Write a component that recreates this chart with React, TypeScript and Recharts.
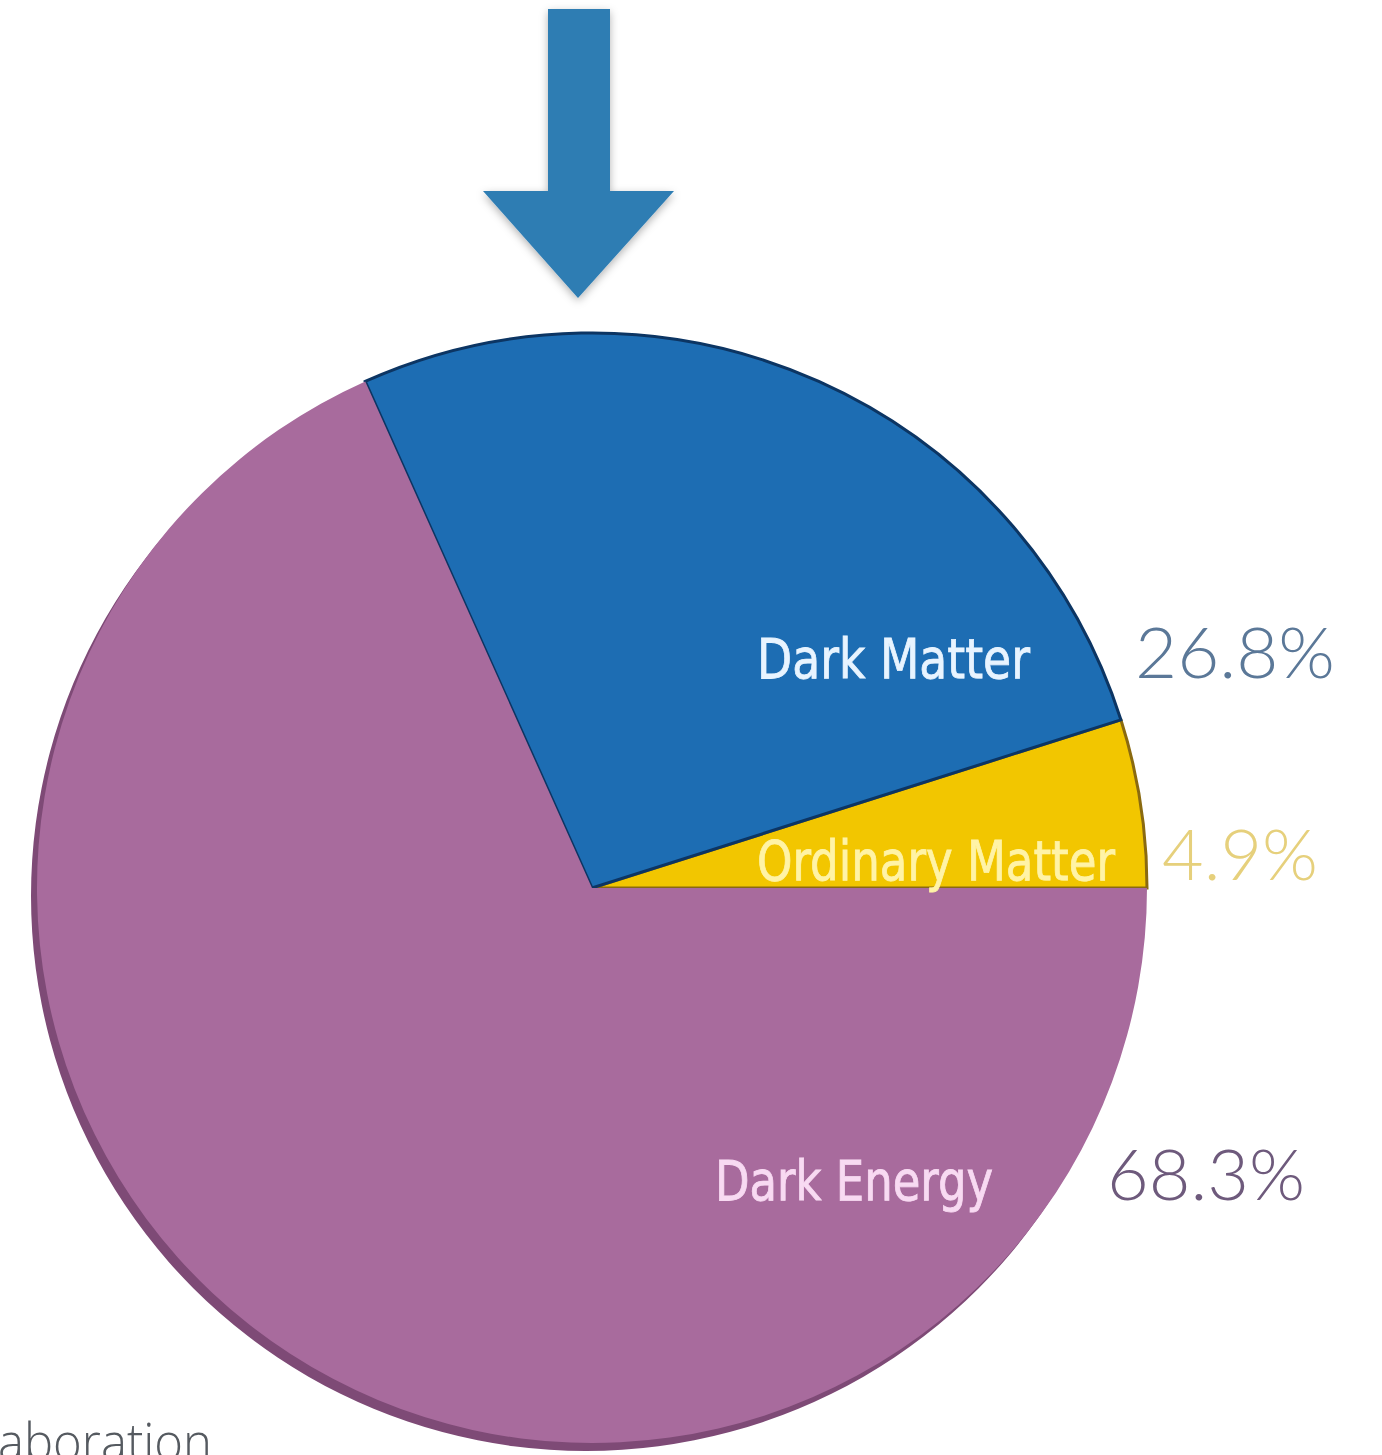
import React from "react";
import { PieChart, Pie, Cell } from "recharts";

const components = ["Ordinary Matter", "Dark Matter", "Dark Energy"];
const shares = [4.9, 26.8, 68.3];
const percentLabels = ["4.9%", "26.8%", "68.3%"];

const data = components.map((name, i) => ({ name, value: shares[i], pct: percentLabels[i] }));
const rim = [{ name: "rim", value: 100 }];

const COLORS = ["#F2C600", "#1D6DB3", "#A86B9D"];
const STROKES = ["#8a6a10", "#0c3563", "none"];
const NAME_COLORS = ["#FFF3A6", "#E8F4FF", "#F8DAF2"];
const PCT_COLORS = ["#E6D07C", "#5B7898", "#6E5A7C"];

// label placement relative to pie centre (px), per slice
const LAYOUT = [
  { nx: 165, ny: -8, nw: 358, px: 570, pw: 156 },
  { nx: 165, ny: -210, nw: 273, px: 543, pw: 200 },
  { nx: 123, ny: 312, nw: 278, px: 515, pw: 198 },
];

const W = 1382;
const H = 1455;
const CX = 592;
const CY = 888;
const R = 555;

// eslint-disable-next-line @typescript-eslint/no-explicit-any
function SliceLabel(props: any) {
  const { cx, cy, index, name, payload } = props;
  const l = LAYOUT[index];
  return (
    <g>
      <text
        x={cx + l.nx}
        y={cy + l.ny}
        fill={NAME_COLORS[index]}
        fontSize={56}
        fontFamily="'DejaVu Sans Condensed', 'DejaVu Sans', sans-serif"
        textLength={l.nw}
        lengthAdjust="spacingAndGlyphs"
        stroke={NAME_COLORS[index]}
        strokeWidth={0.8}
      >
        {name}
      </text>
      <text
        x={cx + l.px}
        y={cy + l.ny}
        fill={PCT_COLORS[index]}
        fontSize={70}
        fontWeight={300}
        fontFamily="Lato, 'DejaVu Sans', sans-serif"
        textLength={l.pw}
        lengthAdjust="spacingAndGlyphs"
      >
        {payload.pct}
      </text>
    </g>
  );
}

export default function App() {
  return (
    <div style={{ position: "absolute", left: 0, top: 0, width: W, height: H, background: "#fff", overflow: "hidden" }}>
      <PieChart width={W} height={H} margin={{ top: 0, right: 0, bottom: 0, left: 0 }}>
        <Pie
          data={rim}
          dataKey="value"
          cx={CX - 6}
          cy={CY + 8}
          outerRadius={R}
          startAngle={0}
          endAngle={360}
          stroke="none"
          fill="#7E4A76"
          isAnimationActive={false}
        />
        <Pie
          data={data}
          dataKey="value"
          nameKey="name"
          cx={CX}
          cy={CY}
          outerRadius={R}
          startAngle={0}
          endAngle={360}
          labelLine={false}
          label={SliceLabel}
          isAnimationActive={false}
        >
          {data.map((d, i) => (
            <Cell key={d.name} fill={COLORS[i]} stroke={STROKES[i]} strokeWidth={3} />
          ))}
        </Pie>
      </PieChart>
      <svg width={W} height={H} style={{ position: "absolute", left: 0, top: 0, pointerEvents: "none" }}>
        <defs>
          <filter id="sh" x="-20%" y="-20%" width="140%" height="140%">
            <feDropShadow dx="0" dy="3" stdDeviation="4" floodColor="#000" floodOpacity="0.3" />
          </filter>
        </defs>
        <polygon
          points="548,9 610,9 610,191 674,191 578,298 483,191 548,191"
          fill="#2E7DB3"
          filter="url(#sh)"
        />
        <text
          x={-2}
          y={1460}
          fill="#555a60"
          fontSize={52}
          fontWeight={300}
          fontFamily="'Open Sans', Lato, sans-serif"
          textLength={214}
          lengthAdjust="spacingAndGlyphs"
          style={{ fontVariantLigatures: "none" }}
        >
          aboration
        </text>
      </svg>
    </div>
  );
}
